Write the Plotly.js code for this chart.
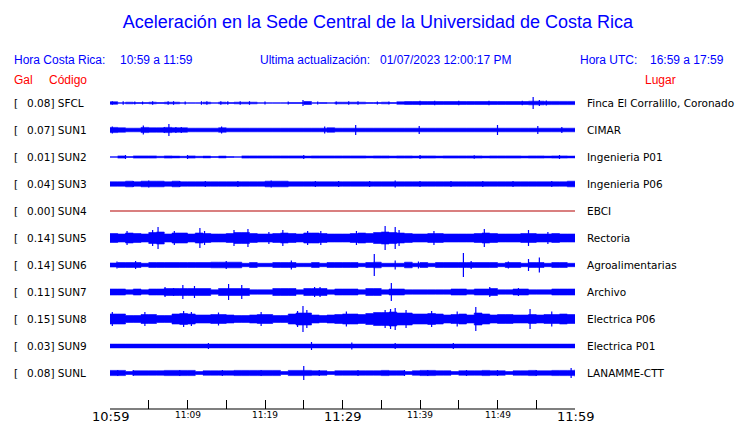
<!DOCTYPE html>
<html><head><meta charset="utf-8">
<script src="https://cdn.plot.ly/plotly-3.0.1.min.js"></script>
<style>html,body{margin:0;padding:0;background:#fff}</style>
</head><body><div id="chart" style="width:740px;height:423px"></div>
<script>
// ---- data ----
const codes  = ["SFCL","SUN1","SUN2","SUN3","SUN4","SUN5","SUN6","SUN7","SUN8","SUN9","SUNL"];
const galMax = ["0.08","0.07","0.01","0.04","0.00","0.14","0.14","0.11","0.15","0.03","0.08"];
const places = ["Finca El Corralillo, Coronado","CIMAR","Ingenieria P01","Ingenieria P06","EBCI",
                "Rectoria","Agroalimentarias","Archivo","Electrica P06","Electrica P01","LANAMME-CTT"];
// tick minutes after 10:59 and their labels ("" = unlabeled tick), label size class
const tickMinutes = [0,5,10,15,20,25,30,35,40,45,50,55,60];
const tickLabels  = ["10:59","","11:09","","11:19","","11:29","","11:39","","11:49","","11:59"];
const tickBig     = [true,false,false,false,false,false,true,false,false,false,false,false,true];

// amplitude envelopes (half height), one value per minute, 10:59 -> 11:59
const envSFCL = [1.2,0.3,0.8,0.5,0.5,0.8,0.5,0.8,0.8,0.3, 0.3,0.3,0.8,0.3,0.8,0.5,0.8,0.8,0.8,0.3,
                 0.3,0.3,0.3,0.5,0.5,1.5,0.3,0.5,0.3,0.8, 0.8,0.8,0.8,0.5,0.5,0.8,0.5,1.2,1.5,1.5,
                 1.5,1.5,1.5,1.5,1.5,1.5,1.5,1.5,1.5,1.5, 1.5,1.5,1.5,1.5,1.8,1.8,1.6,1.6,1.6,1.6, 1.6];
const envSUN1 = [2.6,2.2,1.8,1.8,2.6,2.2,2.2,2.6,2.2,2.2, 1.8,1.8,1.8,1.8,2.2,1.8,1.8,1.8,1.8,1.8,
                 1.8,1.8,1.8,1.8,1.8,1.8,1.8,1.8,2.2,1.8, 1.8,1.8,1.8,1.8,1.8,1.8,1.8,1.8,1.8,1.8,
                 1.8,1.8,1.8,1.8,1.8,1.8,1.8,1.8,1.8,1.8, 1.8,1.8,1.8,1.8,1.8,1.8,1.8,1.8,1.8,1.8, 1.8];
const envSUN2 = [0.3,1.1,0.5,1.1,1.1,1.1,0.7,1.1,0.9,0.7, 1.1,0.7,0.9,0.5,0.9,0.5,0.3,1.1,1.1,1.1,
                 1.1,1.1,1.1,1.1,1.1,0.9,1.1,1.1,1.1,1.1, 1.1,1.1,1.1,0.9,1.1,1.1,0.9,1.1,1.1,0.9,
                 1.1,1.1,0.9,1.1,1.1,1.1,1.1,1.1,0.9,1.1, 1.1,1.1,1.1,0.9,1.1,1.1,0.9,1.1,1.1,0.9, 1.1];
const envSUN3 = [2.2,2.2,2.8,2.2,2.8,2.8,2.8,2.2,2.8,2.2, 2.2,2.2,2.2,2.2,2.2,2.2,2.2,2.2,2.2,2.2,
                 2.8,2.8,2.8,2.2,2.2,2.2,2.2,2.2,2.2,2.2, 2.2,2.2,2.2,2.2,2.2,2.2,2.2,2.2,2.2,2.2,
                 2.2,2.2,2.2,2.2,2.2,2.2,2.2,2.2,2.2,2.2, 2.2,2.2,2.2,2.2,2.2,2.2,2.2,2.2,2.2,2.8, 2.8];
const envSUN4 = [0,0,0,0,0,0,0,0,0,0, 0,0,0,0,0,0,0,0,0,0, 0,0,0,0,0,0,0,0,0,0,
                 0,0,0,0,0,0,0,0,0,0, 0,0,0,0,0,0,0,0,0,0, 0,0,0,0,0,0,0,0,0,0, 0];
const envSUN5 = [4.5,4,5,4.5,4,5.5,6,4,5,5, 4,5,4.5,4,4,4.5,5.5,5.5,4.5,4,
                 4,4.5,5,4.5,4,5,5,4.5,4,4, 4,4.5,5,4.5,5.5,6,5.5,5,4.5,4,
                 4,4.5,4.5,4,4,4,4,4.5,5,4.5, 4,4,4,4.5,4.5,4,4,4.5,4,4, 4];
const envSUN6 = [2,2.5,2.5,2.5,1.7,2.5,2.5,2.5,2.5,2.5, 2.5,2.5,2.5,2.8,2.8,2.8,2.8,1.7,2.5,1.7,
                 1.7,2.5,2.5,2.5,1.7,1.7,2.5,1.7,2.5,2.5, 2.5,2.5,1.7,2.5,2.8,1.7,1.7,1.7,2.8,1.7,
                 2.5,1.7,2.5,2.5,2.5,2.5,2.5,2.5,2.5,2.5, 1.7,2.5,2.5,1.7,2.5,2.5,1.7,2.5,2.5,1.7, 1.7];
const envSUN7 = [3,3,2.2,3,2.2,3,3,3.5,3.5,3.5, 3.5,3.5,3.5,2.2,3.5,3.5,3.5,3.5,2.2,2.2,
                 2.2,3.5,3.5,3.5,2.2,3.5,3.5,3.5,2.2,3, 3,3,2.2,3.5,3.5,2.2,3,3,2.2,2.2,
                 2.2,2.2,2.2,2.2,3,3,2.2,3,3,3.5, 2.2,2.2,3,3,2.2,2.2,2.2,3,3,3, 3];
const envSUN8 = [5,5,3.5,3.5,4.5,4.5,3.5,3.5,5,5.5, 5,4,4,4.5,4.5,4,3.5,3.5,4,4.5,
                 4.5,3.5,3.5,5,6,6,4,3.5,4,4.5, 5,5,4.5,5.5,6.5,6.5,7,6,6,5,
                 5,5.5,5,4,4.5,5,4,6,5,4, 4.5,4.5,4,4,4.5,4,4.5,4.5,5,4.5, 4.5];
const envSUN9 = [1.9,1.9,1.9,1.9,1.9,1.9,1.9,1.9,1.9,1.9, 1.9,1.9,1.9,1.9,1.9,1.9,1.9,1.9,1.9,1.9,
                 1.9,1.9,1.9,1.9,1.9,1.9,1.9,1.9,1.9,1.9, 1.9,1.9,1.9,1.9,1.9,1.9,1.9,1.9,1.9,1.9,
                 1.9,1.9,1.9,1.9,1.9,1.9,1.9,1.9,1.9,1.9, 1.9,1.9,1.9,1.9,1.9,1.9,1.9,1.9,1.9,1.9, 1.9];
const envSUNL = [2.6,2.6,1.5,2.2,2.2,2.2,2.2,2.6,2.6,2.6, 2.6,1.5,2.2,2.2,2.2,2.2,2.6,2.6,2.6,2.6,
                 2.6,2.6,1.5,2.6,2.6,2.6,2.2,2.2,1.5,2.2, 2.2,2.2,2.2,2.2,2.2,2.6,2.2,2.2,1.5,2.2,
                 2.6,2.6,2.2,2.2,1.5,2.2,2.2,2.2,2.6,2.2, 2.2,1.5,2.2,2.2,2.6,2.2,2.2,2.6,2.6,2.6, 3.5];

// individual peaks: [minute, half amplitude]
const pkSFCL = [[0.3,1.8],[1.7,1.8],[3.2,1.5],[4.2,1.5],[5.5,1.8],[7.5,1.8],[8.2,1.8],[9.7,1.5],[11.8,1.8],[12.5,1.8],
                [14.3,1.8],[15.2,1.8],[16.8,1.8],[18,1.8],[20,1.5],[23,1.5],[24.9,3],[26.8,1.5],[29.2,1.5],[30.8,1.8],
                [32,1.8],[34.5,1.5],[36,1.5],[40,2.2],[41.9,2.2],[45,2.2],[48.9,2.2],[53.2,2.2],[54.6,6],[55.4,3],[56.3,2.5]];
const pkSUN1 = [[0.3,3.5],[4.3,4.5],[7,3],[7.6,6],[8.5,3],[9.2,3],[14.4,3.5],[27.7,3.5],[31.7,5],[39.9,4],[50,5],[55.2,4],[58.3,3]];
const pkSUN2 = [[2,2],[10,2],[25,2],[40,2],[47,1.8],[58,2]];
const pkSUN3 = [[3,3],[5,3.5],[9,3],[12.3,3],[16.5,3],[20.8,3.5],[26.5,3],[29.5,3],[33.5,3],[36.8,3.5],[40,3],[44,3],[48.1,3],[52,3],[57,3]];
const pkSUN4 = [];
const pkSUN5 = [[2.2,7],[5.5,8],[6.2,11],[8.3,7],[11.6,10],[12.2,7],[16,8],[17.8,9],[20.5,6],[22.3,8],[25.5,7],[27.2,7],
                [31.8,7],[35.5,12],[36.8,11],[37.3,8],[41.8,7],[48.3,9],[54,8],[56.5,6]];
const pkSUN6 = [[0.9,3.5],[3.3,4],[15,4],[23.4,4.5],[34.1,11],[36.8,4.5],[39.8,3.5],[45.6,12],[46.6,4],[51.4,3.5],[54,6],[55.4,7.5]];
const pkSUN7 = [[7.1,5],[8.2,4],[9.4,7],[10.9,6],[15.3,8],[17,7],[26.4,5],[27.1,5],[36.3,9],[49,5],[52.7,4]];
const pkSUN8 = [[0.3,7],[4.5,7],[9.5,8],[10.5,7],[14,6.5],[19.5,7],[24.2,8],[24.9,13],[25.4,9],[30.5,7.5],[35.5,9],
                [36.2,10],[36.8,11],[38.2,9],[41.5,8],[44.8,7.5],[47.2,12],[54.2,10],[57,7.5]];
const pkSUN9 = [[12.7,3],[26,4],[31.2,3.5],[36.8,3],[44.3,3]];
const pkSUNL = [[1,3],[3,3],[9,3],[14.5,3],[19.5,3],[25,7],[27,3],[32,3],[38,3],[41,3],[46,3],[50,3],[55,3],[59.5,5]];

const envs  = [envSFCL,envSUN1,envSUN2,envSUN3,envSUN4,envSUN5,envSUN6,envSUN7,envSUN8,envSUN9,envSUNL];
const peaks = [pkSFCL,pkSUN1,pkSUN2,pkSUN3,pkSUN4,pkSUN5,pkSUN6,pkSUN7,pkSUN8,pkSUN9,pkSUNL];

// ---- drawing ----
const BLUE = '#0000ff';
const ROW = 27;            // vertical distance between traces (axis units)
const traces = [];
envs.forEach((env, i) => {
  const off = -ROW * i;
  const xs = env.map((_, k) => k);
  if (codes[i] === 'SUN4') {
    traces.push({x: xs, y: env.map(v => off + v), mode: 'lines', line: {color: '#b40000', width: 1.1}, hoverinfo: 'skip'});
    return;
  }
  traces.push({x: xs, y: env.map(v => off - v), mode: 'lines', line: {color: BLUE, width: 0.6, shape: 'hv'}, hoverinfo: 'skip'});
  traces.push({x: xs, y: env.map(v => off + v), mode: 'lines', fill: 'tonexty', fillcolor: BLUE,
               line: {color: BLUE, width: 0.6, shape: 'hv'}, hoverinfo: 'skip'});
  if (peaks[i].length) {
    const px = [], py = [];
    peaks[i].forEach(([t, a]) => { px.push(t, t, null); py.push(off - a, off + a, null); });
    traces.push({x: px, y: py, mode: 'lines', line: {color: BLUE, width: 1.2}, hoverinfo: 'skip'});
  }
});

// layout helpers (pixel -> paper)
const L = 110, R = 575, T = 89, B = 409;
const pxX = p => (p - L) / (R - L);
const pxY = p => (B - p) / (B - T);
function txt(x, y, text, color, size, family, anchor) {
  return {xref: 'paper', yref: 'paper', x: pxX(x), y: pxY(y), text: text, showarrow: false,
          xanchor: anchor || 'left', yanchor: 'middle', borderpad: 0, borderwidth: 0,
          font: {color: color, size: size, family: family}};
}
const SANS = 'Liberation Sans, Arial, sans-serif';
const DJV = 'DejaVu Sans, sans-serif';
const ann = [];
ann.push(txt(14, 60, 'Hora Costa Rica:', BLUE, 12, SANS));
ann.push(txt(120, 60, '10:59 a 11:59', BLUE, 12, SANS));
ann.push(txt(260, 60, 'Ultima actualización:', BLUE, 12, SANS));
ann.push(txt(380, 60, '01/07/2023 12:00:17 PM', BLUE, 12, SANS));
ann.push(txt(580, 60, 'Hora UTC:', BLUE, 12, SANS));
ann.push(txt(650, 60, '16:59 a 17:59', BLUE, 12, SANS));
ann.push(txt(14, 80, 'Gal', '#ff0000', 12, SANS));
ann.push(txt(49, 80, 'Código', '#ff0000', 12, SANS));
ann.push(txt(645, 80, 'Lugar', '#ff0000', 12, SANS));
codes.forEach((c, i) => {
  const base = {xref: 'paper', yref: 'y', y: -ROW * i, showarrow: false, xanchor: 'left', yanchor: 'middle',
                borderpad: 0, borderwidth: 0, font: {color: '#000', size: 10.5, family: DJV}};
  ann.push(Object.assign({}, base, {x: pxX(14), text: '['}));
  ann.push(Object.assign({}, base, {x: pxX(27), text: galMax[i] + '] ' + c}));
  ann.push(Object.assign({}, base, {x: pxX(587), text: places[i]}));
});
tickMinutes.forEach((m, k) => {
  if (!tickLabels[k]) return;
  ann.push({xref: 'x', yref: 'paper', x: m, y: 0, yshift: tickBig[k] ? -7 : -6, showarrow: false,
            xanchor: 'center', yanchor: 'middle', borderpad: 0, borderwidth: 0, text: tickLabels[k],
            font: {color: '#000', size: tickBig[k] ? 13 : 9, family: DJV}});
});

const layout = {
  width: 740, height: 423,
  margin: {l: L, r: 740 - R, t: T, b: 423 - B, pad: 0},
  paper_bgcolor: '#fff', plot_bgcolor: '#fff', showlegend: false,
  title: {text: 'Aceleración en la Sede Central de la Universidad de Costa Rica',
          xref: 'container', yref: 'container', x: 378 / 740, y: 1 - 22 / 423, xanchor: 'center', yanchor: 'middle',
          font: {family: SANS, size: 18, color: BLUE}},
  xaxis: {range: [0, 60], showline: false, ticks: 'inside', ticklen: 9,
          tickcolor: '#000', tickwidth: 1, tickvals: tickMinutes, showticklabels: false,
          showgrid: false, zeroline: false, fixedrange: true},
  yaxis: {range: [-(ROW * 10 + 36), 14], visible: false, fixedrange: true},
  shapes: [{type: 'line', xref: 'paper', yref: 'paper', x0: 0, x1: 1, y0: 0, y1: 0,
            line: {color: '#000', width: 1.2}, layer: 'above'}],
  annotations: ann
};
Plotly.newPlot('chart', traces, layout, {displayModeBar: false, staticPlot: true});
</script></body></html>
